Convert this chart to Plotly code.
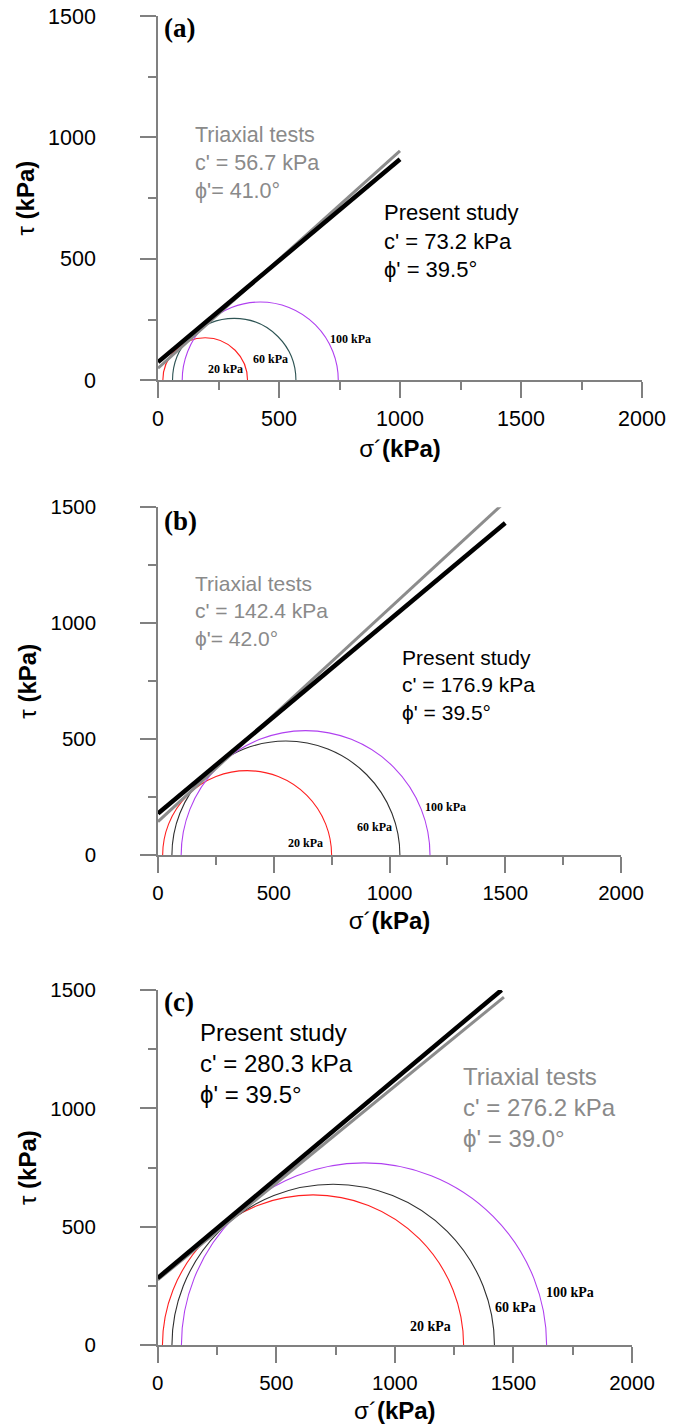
import plotly.graph_objects as go

# ---------------- data ----------------
x_tick_vals = [0, 500, 1000, 1500, 2000]
y_tick_vals = [0, 500, 1000, 1500]
panel_tags = ["(a)", "(b)", "(c)"]
confining_labels = ["20 kPa", "60 kPa", "100 kPa"]

# Mohr circles: minor / major effective principal stresses (kPa)
sigma3_a = [20, 60, 100]
sigma1_a = [370, 570, 745]
sigma3_b = [20, 60, 100]
sigma1_b = [750, 1045, 1175]
sigma3_c = [20, 60, 100]
sigma1_c = [1290, 1420, 1640]

# failure envelopes (end points)
present_x_a = [0, 1000]
present_y_a = [75, 910]
triax_x_a = [0, 1000]
triax_y_a = [50, 945]
present_x_b = [0, 1500]
present_y_b = [180, 1432]
triax_x_b = [0, 1490]
triax_y_b = [145, 1515]
present_x_c = [0, 1450]
present_y_c = [284, 1500]
triax_x_c = [0, 1460]
triax_y_c = [276, 1470]

# strength parameters printed on the chart
present_c = [73.2, 176.9, 280.3]
present_phi = [39.5, 39.5, 39.5]
triax_c = [56.7, 142.4, 276.2]
triax_phi = [41.0, 42.0, 39.0]

# ---------------- layout / style ----------------
W, H = 685, 1425
SANS = "Liberation Sans, Arial, sans-serif"
SERIF = "Liberation Serif, Times New Roman, serif"
AXIS_GREY = "#808080"
TEXT_GREY = "#8a8a8a"

panels = [
    dict(px=(158, 642), py=(380.3, 16), s3=sigma3_a, s1=sigma1_a,
         px_=present_x_a, py_=present_y_a, tx=triax_x_a, ty=triax_y_a,
         circ_cols=["#ff2020", "#2f5555", "#b040f0"],
         circ_lab_pos=[(277, 46), (463, 88), (797, 171)], circ_lab_size=12,
         tag_pos=(16, 1450),
         triax_pos=(145, 894), triax_fmt="Triaxial tests<br>c' = {c} kPa<br>ϕ'= {p}°", triax_size=21.5,
         pres_pos=(926, 573), pres_size=22, tick_size=21.5),
    dict(px=(158, 621), py=(855.3, 507.3), s3=sigma3_b, s1=sigma1_b,
         px_=present_x_b, py_=present_y_b, tx=triax_x_b, ty=triax_y_b,
         circ_cols=["#ff2020", "#303030", "#b040f0"],
         circ_lab_pos=[(637, 52), (937, 122), (1242, 207)], circ_lab_size=12,
         tag_pos=(17, 1441),
         triax_pos=(151, 1053), triax_fmt="Triaxial tests<br>c' = {c} kPa<br>ϕ'= {p}°", triax_size=21,
         pres_pos=(1045, 734), pres_size=21, tick_size=20.5),
    dict(px=(157.7, 632), py=(1345.3, 990), s3=sigma3_c, s1=sigma1_c,
         px_=present_x_c, py_=present_y_c, tx=triax_x_c, ty=triax_y_c,
         circ_cols=["#ff2020", "#303030", "#b040f0"],
         circ_lab_pos=[(1149, 78), (1510, 159), (1740, 224)], circ_lab_size=14,
         tag_pos=(18, 1449),
         triax_pos=(1280, 1005), triax_fmt="Triaxial tests<br>c' = {c} kPa<br>ϕ' = {p}°", triax_size=24,
         pres_pos=(170, 1191), pres_size=24, tick_size=20.5),
]

fig = go.Figure()
shapes = []
annotations = []
layout_axes = {}

for i, p in enumerate(panels):
    sfx = "" if i == 0 else str(i + 1)
    xa, ya = "x" + sfx, "y" + sfx

    # envelopes
    fig.add_trace(go.Scatter(x=p["tx"], y=p["ty"], mode="lines", xaxis=xa, yaxis=ya,
                             line=dict(color="#8c8c8c", width=3), showlegend=False,
                             hoverinfo="skip"))
    fig.add_trace(go.Scatter(x=p["px_"], y=p["py_"], mode="lines", xaxis=xa, yaxis=ya,
                             line=dict(color="#000000", width=4.5), showlegend=False,
                             hoverinfo="skip"))

    # Mohr circles (lower half clipped by the plot area)
    for s3, s1, col in zip(p["s3"], p["s1"], p["circ_cols"]):
        r = (s1 - s3) / 2.0
        shapes.append(dict(type="circle", xref=xa, yref=ya, x0=s3, x1=s1, y0=-r, y1=r,
                           line=dict(color=col, width=1.1), layer="below"))

    for lab, (lx, ly) in zip(confining_labels, p["circ_lab_pos"]):
        annotations.append(dict(xref=xa, yref=ya, x=lx, y=ly, text="<b>%s</b>" % lab,
                                showarrow=False, xanchor="center", yanchor="middle",
                                font=dict(family=SERIF, size=p["circ_lab_size"], color="#000")))

    annotations.append(dict(xref=xa, yref=ya, x=p["tag_pos"][0], y=p["tag_pos"][1],
                            text="<b>%s</b>" % panel_tags[i], showarrow=False,
                            xanchor="left", yanchor="middle",
                            font=dict(family=SERIF, size=27, color="#000")))

    annotations.append(dict(xref=xa, yref=ya, x=p["triax_pos"][0], y=p["triax_pos"][1],
                            text=p["triax_fmt"].format(c="%.1f" % triax_c[i], p="%.1f" % triax_phi[i]),
                            showarrow=False, xanchor="left", yanchor="middle", align="left",
                            font=dict(family=SANS, size=p["triax_size"], color=TEXT_GREY)))
    annotations.append(dict(xref=xa, yref=ya, x=p["pres_pos"][0], y=p["pres_pos"][1],
                            text="Present study<br>c' = %.1f kPa<br>ϕ' = %.1f°" % (present_c[i], present_phi[i]),
                            showarrow=False, xanchor="left", yanchor="middle", align="left",
                            font=dict(family=SANS, size=p["pres_size"], color="#000")))

    common = dict(showgrid=False, zeroline=False, showline=True, linecolor=AXIS_GREY,
                  linewidth=1.5, ticks="outside", ticklen=16, tickwidth=1.5,
                  tickcolor=AXIS_GREY, automargin=False,
                  minor=dict(ticks="outside", ticklen=8, tickwidth=1.5, tickcolor=AXIS_GREY,
                             dtick=250, showgrid=False),
                  tickfont=dict(family=SANS, size=p["tick_size"], color="#000"))
    layout_axes["xaxis" + sfx] = dict(
        common, domain=[p["px"][0] / W, p["px"][1] / W], range=[0, 2000],
        tickvals=x_tick_vals, anchor=ya, ticklabelstandoff=2,
        title=dict(text="σ´<b>(kPa)</b>", standoff=10,
                   font=dict(family=SANS, size=24, color="#000")))
    layout_axes["yaxis" + sfx] = dict(
        common, domain=[1 - p["py"][0] / H, 1 - p["py"][1] / H], range=[0, 1500],
        tickvals=y_tick_vals, anchor=xa, ticklabelstandoff=40,
        title=dict(text="τ <b>(kPa)</b>", standoff=7,
                   font=dict(family=SANS, size=24, color="#000")))

fig.update_layout(width=W, height=H, autosize=False,
                  margin=dict(l=0, r=0, t=0, b=0, pad=0, autoexpand=False),
                  plot_bgcolor="white", paper_bgcolor="white",
                  shapes=shapes, annotations=annotations, showlegend=False,
                  **layout_axes)

fig.write_html("out.html",
               config={"displayModeBar": False, "responsive": False},
               post_script="document.body.style.margin='0';document.body.style.padding='0';"
                           "document.documentElement.style.overflow='hidden';")
